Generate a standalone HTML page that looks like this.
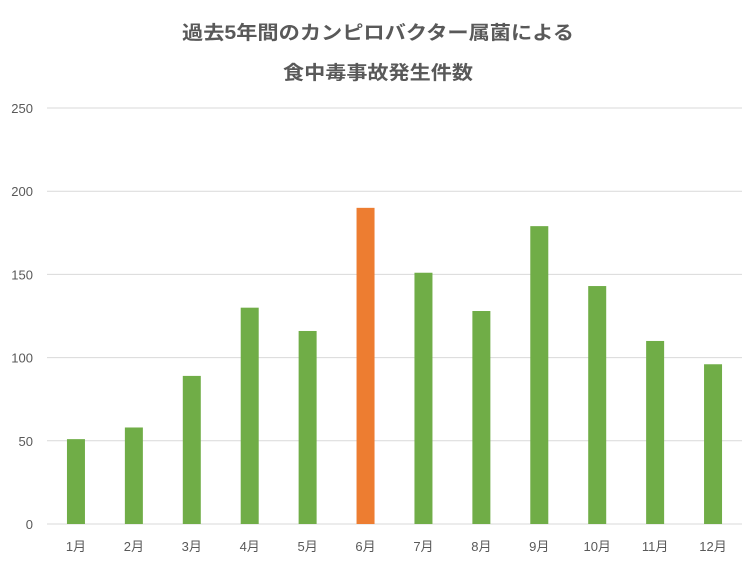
<!DOCTYPE html>
<html><head><meta charset="utf-8"><style>
body{margin:0;background:#fff;}
svg{display:block;font-family:"Liberation Sans","Noto Sans CJK JP",sans-serif;}
</style></head><body>
<svg id="chart" width="756" height="567" viewBox="0 0 756 567">
<rect width="756" height="567" fill="#fff"/>
<text x="378" y="39" text-anchor="middle" font-size="19" font-weight="bold" fill="#595959" textLength="392" lengthAdjust="spacingAndGlyphs">過去5年間のカンピロバクター属菌による</text>
<text x="378" y="79" text-anchor="middle" font-size="19" font-weight="bold" fill="#595959" textLength="190" lengthAdjust="spacingAndGlyphs">食中毒事故発生件数</text>
<g id="grid"></g><g id="bars"></g><g id="labels"></g>
</svg>
<script>
const categories=["1月","2月","3月","4月","5月","6月","7月","8月","9月","10月","11月","12月"];
const values=[51,58,89,130,116,190,151,128,179,143,110,96];
const highlight=[false,false,false,false,false,true,false,false,false,false,false,false];
const yTicks=[0,50,100,150,200,250];
const NS="http://www.w3.org/2000/svg";
const x0=47,x1=742,y0=524,yMax=250,yTop=108;
const band=(x1-x0)/categories.length;
const ys=v=>y0-(v/yMax)*(y0-yTop);
const xc=i=>x0+band*(i+0.5);
function mk(t,a,p){const e=document.createElementNS(NS,t);for(const k in a)e.setAttribute(k,a[k]);p.appendChild(e);return e;}
const g=document.getElementById('grid'),b=document.getElementById('bars'),l=document.getElementById('labels');
yTicks.forEach(v=>{
 const ln=mk('line',{x1:x0,x2:x1,y1:ys(v),y2:ys(v),stroke:'#d9d9d9','stroke-width':1},g);
 
 
 const t=mk('text',{x:33,y:ys(v)+5,'text-anchor':'end','font-size':13,fill:'#595959'},g);
 t.textContent=v;
 
 
});
categories.forEach((c,i)=>{
 const r=mk('rect',{x:xc(i)-9,y:ys(values[i]),width:18,height:y0-ys(values[i]),fill:highlight[i]?'#ed7d31':'#70ad47'},b);
 
 
 const t=mk('text',{x:xc(i),y:551,'text-anchor':'middle','font-size':13,fill:'#595959'},l);
 t.textContent=c;
 
 
});
</script>
</body></html>
